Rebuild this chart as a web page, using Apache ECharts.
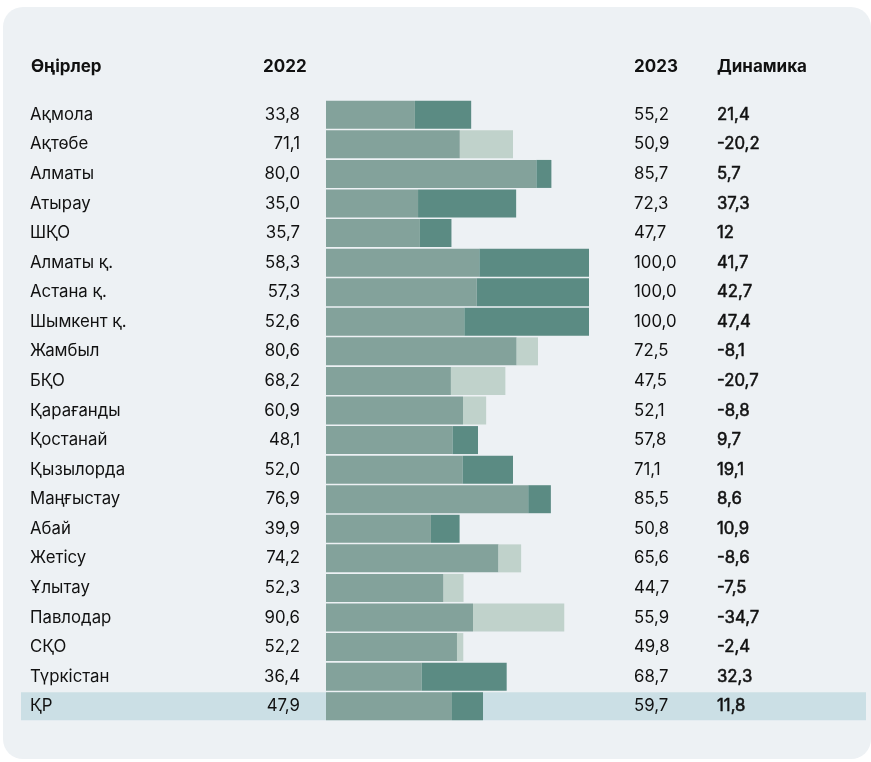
<!DOCTYPE html>
<html>
<head>
<meta charset="utf-8">
<title>Өңірлер 2022 / 2023</title>
<script src="https://cdn.jsdelivr.net/npm/echarts@6/dist/echarts.min.js"></script>
<style>
  html, body { margin: 0; padding: 0; background: #ffffff; }
  #main { width: 871px; height: 762px; }
</style>
</head>
<body>
<div id="main"></div>
<script type="text/javascript">
// rows, top to bottom
var regions = ['Ақмола', 'Ақтөбе', 'Алматы', 'Атырау', 'ШҚО', 'Алматы қ.', 'Астана қ.', 'Шымкент қ.',
  'Жамбыл', 'БҚО', 'Қарағанды', 'Қостанай', 'Қызылорда', 'Маңғыстау', 'Абай', 'Жетісу',
  'Ұлытау', 'Павлодар', 'СҚО', 'Түркістан', 'ҚР'];
var values2022 = [33.8, 71.1, 80.0, 35.0, 35.7, 58.3, 57.3, 52.6, 80.6, 68.2, 60.9, 48.1, 52.0, 76.9,
  39.9, 74.2, 52.3, 90.6, 52.2, 36.4, 47.9];
var values2023 = [55.2, 50.9, 85.7, 72.3, 47.7, 100.0, 100.0, 100.0, 72.5, 47.5, 52.1, 57.8, 71.1, 85.5,
  50.8, 65.6, 44.7, 55.9, 49.8, 68.7, 59.7];
var dynamics = [21.4, -20.2, 5.7, 37.3, 12, 41.7, 42.7, 47.4, -8.1, -20.7, -8.8, 9.7, 19.1, 8.6,
  10.9, -8.6, -7.5, -34.7, -2.4, 32.3, 11.8];
var headers = ['Өңірлер', '2022', '2023', 'Динамика'];
var totalRow = 'ҚР';

var FONT = 'Inter, "Noto Sans", sans-serif';
var INK = '#111111';

function fmt1(v) { return v.toFixed(1).replace('.', ','); }
function fmtDyn(v) { return String(v).replace('.', ','); }

// stacked pieces: common part, growth, decline
var base = [], up = [], down = [];
for (var i = 0; i < regions.length; i++) {
  var a = values2022[i], b = values2023[i];
  base.push(Math.min(a, b));
  up.push(b > a ? +(b - a).toFixed(1) : 0);
  down.push(a > b ? +(a - b).toFixed(1) : 0);
}
var highlight = regions.map(function (r) { return r === totalRow ? 1 : 0; });

var gridTop = 100, gridBottom = 41;

function labelAxis(pos, margin, align, formatter, medium) {
  var lbl = {
    margin: margin, align: align, color: INK, fontSize: 16.8, fontFamily: FONT,
    formatter: formatter
  };
  if (medium) {
    // a bit heavier than regular, lighter than bold
    lbl.textBorderColor = INK;
    lbl.textBorderWidth = 0.5;
  }
  return {
    type: 'category', gridIndex: 0, data: regions, inverse: true, position: pos,
    axisLine: { show: false }, axisTick: { show: false }, splitLine: { show: false },
    axisLabel: lbl
  };
}

var myChart = echarts.init(document.getElementById('main'));
myChart.setOption({
  backgroundColor: '#ffffff',
  animation: false,
  graphic: [
    { type: 'rect', z: -10, shape: { x: 3, y: 7, width: 868, height: 752, r: 20 },
      style: { fill: '#edf1f4' } },
    { type: 'text', left: 31, top: 58, style: { text: headers[0], font: 'bold 17px ' + FONT, fill: INK } },
    { type: 'text', left: 263, top: 58, style: { text: headers[1], font: 'bold 17px ' + FONT, fill: INK } },
    { type: 'text', left: 634, top: 58, style: { text: headers[2], font: 'bold 17px ' + FONT, fill: INK } },
    { type: 'text', left: 717, top: 58, style: { text: headers[3], font: 'bold 17px ' + FONT, fill: INK } }
  ],
  grid: [
    { left: 326, right: 282, top: gridTop, bottom: gridBottom },
    { left: 21, right: 5, top: gridTop, bottom: gridBottom }
  ],
  xAxis: [
    { type: 'value', gridIndex: 0, min: 0, max: 100, show: false },
    { type: 'value', gridIndex: 1, min: 0, max: 1, show: false }
  ],
  yAxis: [
    labelAxis('left', 296, 'left', null),
    labelAxis('left', 26, 'right', function (v, i) { return fmt1(values2022[i]); }),
    labelAxis('right', 45, 'left', function (v, i) { return fmt1(values2023[i]); }),
    labelAxis('right', 128, 'left', function (v, i) { return fmtDyn(dynamics[i]); }, true),
    { type: 'category', gridIndex: 1, data: regions, inverse: true, show: false }
  ],
  series: [
    {
      name: 'band', type: 'bar', xAxisIndex: 1, yAxisIndex: 4, z: 0,
      data: highlight, barWidth: 28, silent: true,
      itemStyle: { color: '#cbdfe5' }
    },
    {
      name: 'base', type: 'bar', stack: 'v', data: base, barWidth: 28, z: 2,
      itemStyle: { color: '#83a29b' }
    },
    {
      name: 'up', type: 'bar', stack: 'v', data: up, barWidth: 28, z: 2,
      itemStyle: { color: '#5b8b83' }
    },
    {
      name: 'down', type: 'bar', stack: 'v', data: down, barWidth: 28, z: 2,
      itemStyle: { color: '#c0d2cb' }
    }
  ]
});
</script>
</body>
</html>
